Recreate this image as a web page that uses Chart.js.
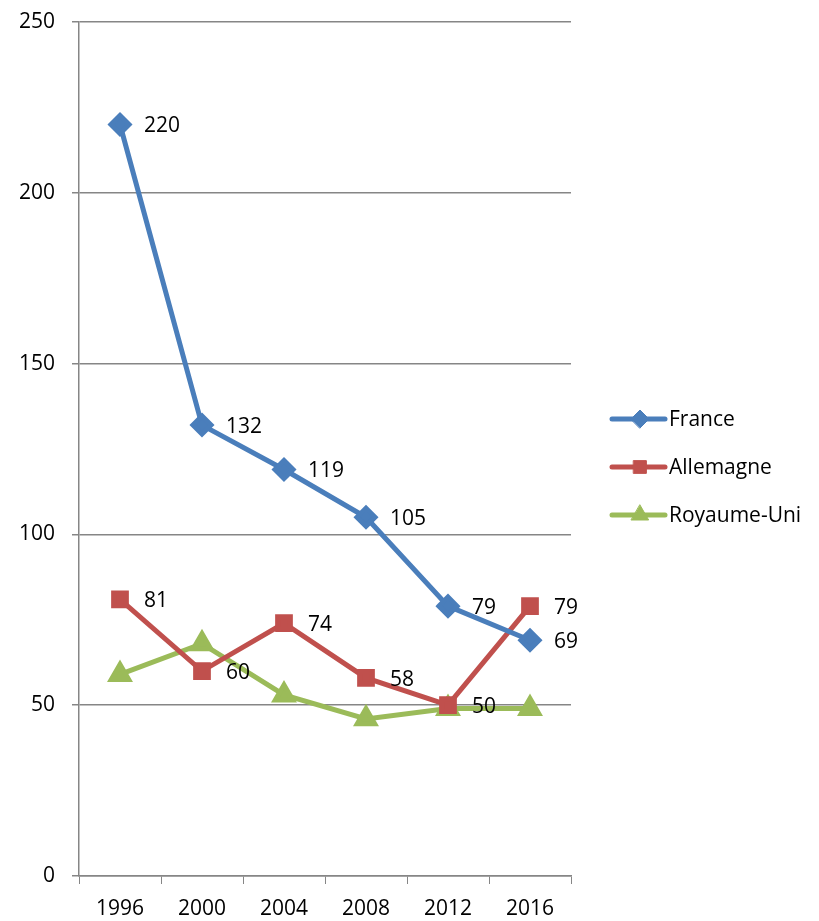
<!DOCTYPE html>
<html>
<head>
<meta charset="utf-8">
<script src="https://cdn.jsdelivr.net/npm/chart.js@4"></script>
<style>
  html, body { margin: 0; padding: 0; background: #fff; }
  #wrap { width: 819px; height: 921px; }
</style>
</head>
<body>
<div id="wrap"><canvas id="lineChart"></canvas></div>
<script>
const years = ['1996', '2000', '2004', '2008', '2012', '2016'];
const france = [220, 132, 119, 105, 79, 69];
const allemagne = [81, 60, 74, 58, 50, 79];
const royaumeUni = [59, 68, 53, 46, 49, 49];
const yTicks = [0, 50, 100, 150, 200, 250];

const FONT = '"Open Sans", "Liberation Sans", sans-serif';

// étiquettes de valeurs à droite des points (France et Allemagne seulement)
const valueLabels = {
    id: 'valueLabels',
    afterDatasetsDraw(chart) {
        const ctx = chart.ctx;
        ctx.save();
        ctx.font = '21px ' + FONT;
        ctx.fillStyle = '#000';
        ctx.textAlign = 'left';
        ctx.textBaseline = 'middle';
        chart.data.datasets.forEach((ds, i) => {
            if (!ds.showValues) return;
            chart.getDatasetMeta(i).data.forEach((pt, j) => {
                ctx.fillText(ds.data[j], pt.x + 24, pt.y + 2);
            });
        });
        ctx.restore();
    }
};

// légende à droite : trait + marqueur, comme dans Excel
const sideLegend = {
    id: 'sideLegend',
    afterDraw(chart) {
        const ctx = chart.ctx;
        const x0 = 612, y0 = 419, step = 48;
        ctx.save();
        chart.data.datasets.forEach((ds, i) => {
            const y = y0 + i * step;
            ctx.strokeStyle = ds.borderColor;
            ctx.fillStyle = ds.borderColor;
            ctx.lineWidth = 5;
            ctx.lineCap = 'round';
            ctx.beginPath();
            ctx.moveTo(x0, y);
            ctx.lineTo(x0 + 53, y);
            ctx.stroke();
            ctx.lineWidth = 1;
            Chart.helpers.drawPoint(ctx, {
                pointStyle: ds.pointStyle,
                radius: ds.pointRadius,
                rotation: 0,
                borderWidth: 1
            }, x0 + 28, y);
            ctx.fillStyle = '#000';
            ctx.font = '21px ' + FONT;
            ctx.textAlign = 'left';
            ctx.textBaseline = 'middle';
            ctx.fillText(ds.label, x0 + 57, y + 1);
        });
        ctx.restore();
    }
};

function series(label, data, color, style, radius, showValues) {
    return {
        label: label,
        data: data,
        borderColor: color,
        backgroundColor: color,
        pointBackgroundColor: color,
        pointBorderColor: color,
        borderWidth: 5,
        pointStyle: style,
        pointRadius: radius,
        pointHoverRadius: radius,
        tension: 0,
        showValues: showValues
    };
}

Chart.defaults.font.family = FONT;
Chart.defaults.font.size = 21;
Chart.defaults.color = '#000';

const ctx = document.getElementById('lineChart').getContext('2d');
new Chart(ctx, {
    type: 'line',
    data: {
        labels: years,
        datasets: [
            series('France', france, '#4A7EBB', 'rectRot', 9, true),
            series('Allemagne', allemagne, '#C0504D', 'rect', 9, true),
            series('Royaume-Uni', royaumeUni, '#9BBB59', 'triangle', 10, false)
        ]
    },
    options: {
        responsive: true,
        maintainAspectRatio: false,
        animation: false,
        layout: { padding: { top: 22, right: 248, left: 0, bottom: 0 } },
        plugins: {
            legend: { display: false },
            tooltip: { enabled: false }
        },
        scales: {
            x: {
                offset: true,
                grid: {
                    offset: true,
                    drawOnChartArea: false,
                    drawTicks: true,
                    tickLength: 8,
                    color: '#868686'
                },
                border: { color: '#868686', width: 1.5 },
                ticks: { padding: 12, maxRotation: 0, font: { size: 21 } },
                afterFit(scale) {
                    scale.height = 45;
                    scale.paddingLeft = 0;
                    scale.paddingRight = 0;
                }
            },
            y: {
                min: 0,
                max: 250,
                afterBuildTicks(scale) { scale.ticks = yTicks.map(v => ({ value: v })); },
                grid: { color: '#868686', lineWidth: 1.5, tickLength: 7 },
                border: { color: '#868686', width: 1.5 },
                ticks: { padding: 17, font: { size: 21 } },
                afterFit(scale) {
                    scale.width = 79;
                    scale.paddingTop = 0;
                    scale.paddingBottom = 0;
                }
            }
        }
    },
    plugins: [valueLabels, sideLegend]
});
</script>
</body>
</html>
